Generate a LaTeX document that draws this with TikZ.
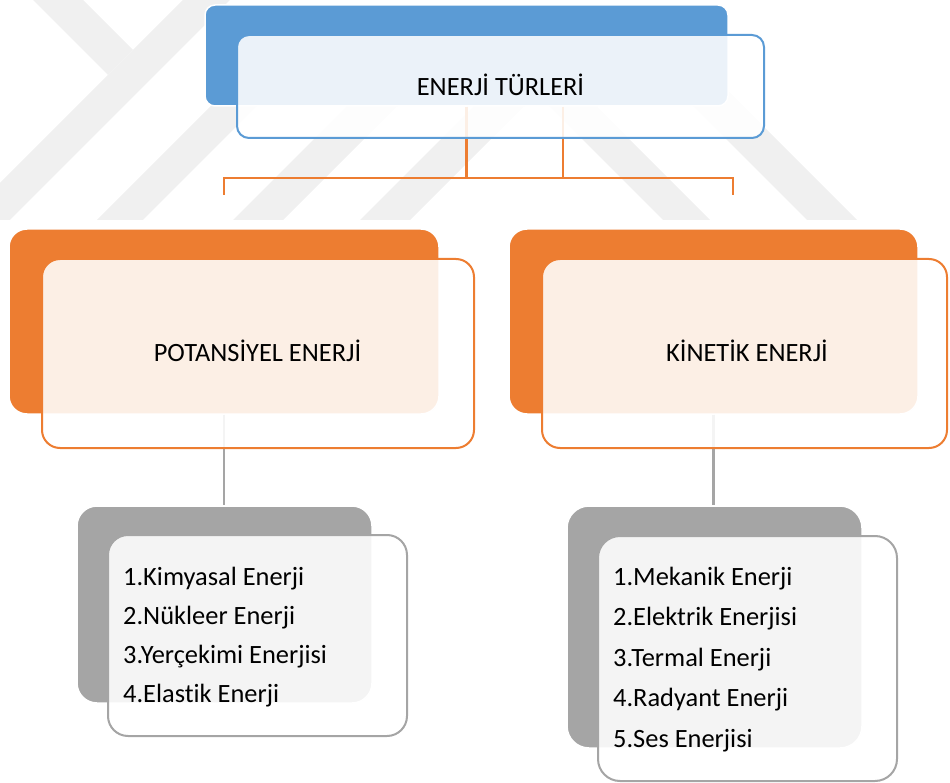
\documentclass[tikz,border=0pt]{standalone}
\usepackage{fontspec}
\setmainfont{Carlito}[Ligatures={NoCommon}]
\definecolor{wm}{RGB}{240,240,240}
\definecolor{oblue}{RGB}{91,155,213}
\definecolor{oorange}{RGB}{237,125,49}
\definecolor{ogray}{RGB}{165,165,165}
\begin{document}
\begin{tikzpicture}[x=1pt,y=-1pt,
  backbox/.style={draw=white, line width=1.5pt, inner sep=0pt},
  frontbox/.style={fill=white, fill opacity=0.88, line width=2pt, inner sep=0pt},
  lbl/.style={font=\fontsize{26.4}{40}\selectfont, text=black, inner sep=0pt, anchor=base},
  item/.style={font=\fontsize{26.4}{40}\selectfont, text=black, inner sep=0pt, anchor=base west},
  conn/.style={line width=2.3pt}]
\useasboundingbox (0,0) rectangle (950,783);
% watermark
\fill[wm] (33,0) -- (83,0) -- (133,50) -- (108,75) -- cycle;
\fill[wm] (183,0) -- (230,0) -- (10,220) -- (0,220) -- (0,183) -- cycle;
\fill[wm] (307,10) -- (353,10) -- (143,220) -- (97,220) -- cycle;
\fill[wm] (443,10) -- (493,10) -- (283,220) -- (233,220) -- cycle;
\fill[wm] (570,10) -- (620,10) -- (410,220) -- (360,220) -- cycle;
\fill[wm] (453,10) -- (500,10) -- (710,220) -- (663,220) -- cycle;
\fill[wm] (597,10) -- (647,10) -- (857,220) -- (807,220) -- cycle;
% back boxes
\node[backbox, fill=oblue, rounded corners=10pt, minimum width=523pt, minimum height=101pt] (tb) at (466.5,55.5) {};
\node[backbox, fill=oorange, rounded corners=18pt, minimum width=430pt, minimum height=185pt] (mlb) at (224,321.5) {};
\node[backbox, fill=oorange, rounded corners=18pt, minimum width=409pt, minimum height=185pt] (mrb) at (713.5,321.5) {};
\node[backbox, fill=ogray, rounded corners=20pt, minimum width=295pt, minimum height=197pt] (blb) at (224.5,604.5) {};
\node[backbox, fill=ogray, rounded corners=22pt, minimum width=295pt, minimum height=242pt] (brb) at (714.5,627) {};
% connectors
\coordinate (j2) at (563,178);
\coordinate (hl) at (224,178);
\coordinate (hr) at (733,178);
\coordinate (el) at (224,195);
\coordinate (er) at (733,195);
\draw[conn, oorange] (tb.south) -- (tb.south |- hl);
\draw[conn, oorange] (tb.south -| j2) -- (j2);
\draw[conn, oorange, line join=miter] (el) -- (hl) -- (hr) -- (er);
\draw[conn, ogray] (mlb.south) -- (mlb.south |- blb.north);
\draw[conn, ogray] (mrb.south) -- (mrb.south |- brb.north);
% front boxes
\node[frontbox, draw=oblue, rounded corners=12pt, minimum width=527pt, minimum height=103pt] (tf) at (500.5,86.5) {};
\node[frontbox, draw=oorange, rounded corners=18pt, minimum width=432pt, minimum height=189pt] (mlf) at (258,353.5) {};
\node[frontbox, draw=oorange, rounded corners=18pt, minimum width=405pt, minimum height=189pt] (mrf) at (744.5,353.5) {};
\node[frontbox, draw=ogray, rounded corners=20pt, minimum width=299pt, minimum height=201pt] (blf) at (257.5,635.5) {};
\node[frontbox, draw=ogray, rounded corners=22pt, minimum width=299pt, minimum height=245pt] (brf) at (747.5,658.5) {};
% texts
\node[lbl] (t0) at (500.5,95.5) {ENERJİ TÜRLERİ};
\node[lbl] (t1) at (257.5,361) {POTANSİYEL ENERJİ};
\node[lbl] (t2) at (747,361) {KİNETİK ENERJİ};
\node[item] (l1) at (123,585) {1.Kimyasal Enerji};
\node[item] (l2) at (123,624) {2.Nükleer Enerji};
\node[item] (l3) at (123,663) {3.Yerçekimi Enerjisi};
\node[item] (l4) at (123,702) {4.Elastik Enerji};
\node[item] (r1) at (613,585) {1.Mekanik Enerji};
\node[item] (r2) at (613,625.5) {2.Elektrik Enerjisi};
\node[item] (r3) at (613,666) {3.Termal Enerji};
\node[item] (r4) at (613,706.5) {4.Radyant Enerji};
\node[item] (r5) at (613,747) {5.Ses Enerjisi};
\end{tikzpicture}
\end{document}
